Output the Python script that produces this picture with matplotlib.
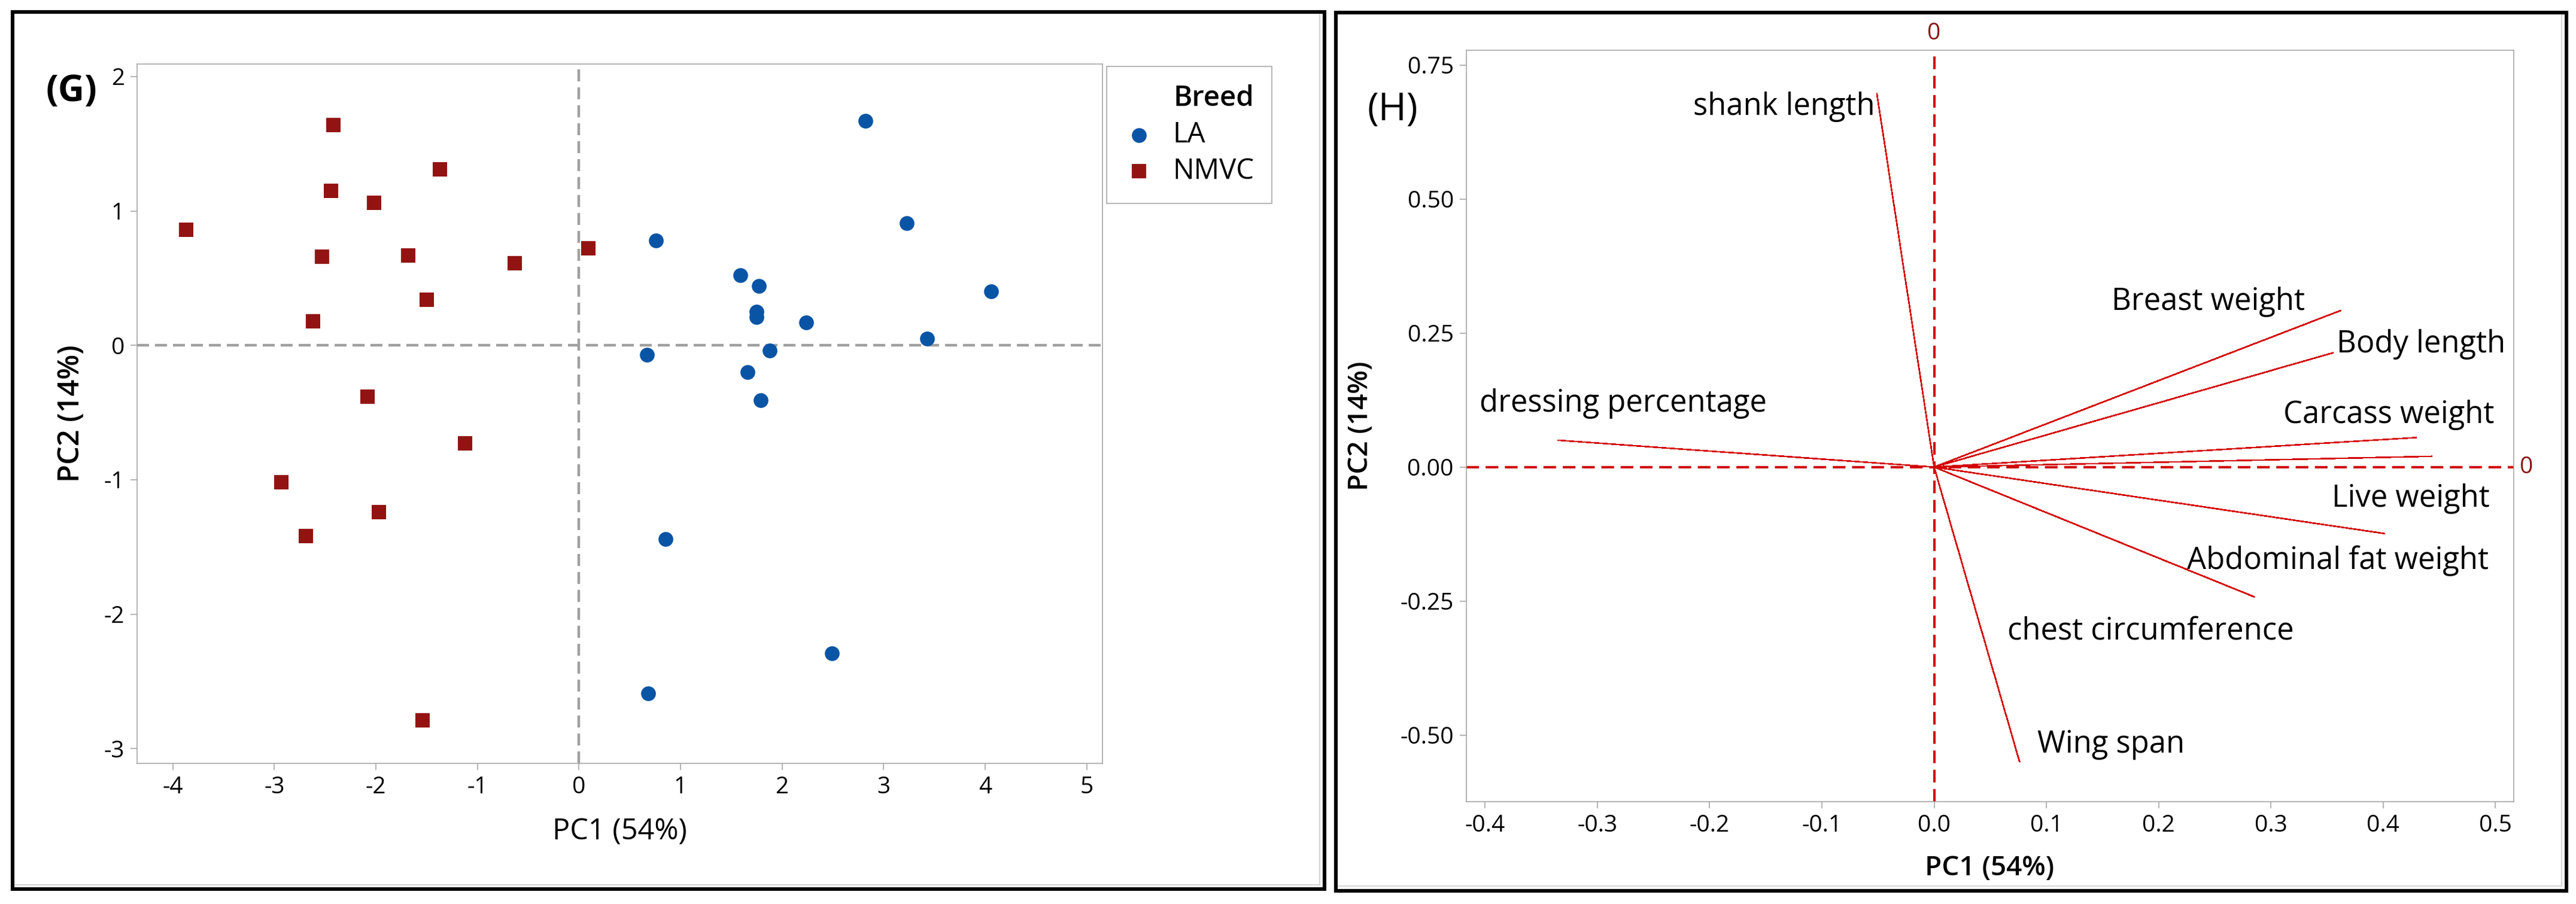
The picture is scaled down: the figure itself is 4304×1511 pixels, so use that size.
import matplotlib
matplotlib.use("Agg")
import matplotlib.pyplot as plt
from matplotlib.patches import Rectangle
from matplotlib.ticker import FormatStrFormatter

plt.rcParams['font.family'] = ['Open Sans', 'DejaVu Sans']
plt.rcParams['axes.unicode_minus'] = False

# (G) PCA scores
la_pc1 = [0.76, 1.59, 1.77, 1.75, 1.75, 2.24, 0.67, 1.88, 1.66, 1.79, 2.82, 3.23, 4.06, 3.43, 0.85, 0.68, 2.49]
la_pc2 = [0.78, 0.52, 0.44, 0.25, 0.21, 0.17, -0.07, -0.04, -0.20, -0.41, 1.67, 0.91, 0.40, 0.05, -1.44, -2.59, -2.29]
nmvc_pc1 = [-2.42, -1.37, -2.44, -2.02, -3.87, -2.53, -1.68, -0.63, 0.09, -1.50, -2.62, -2.08, -1.12, -2.93, -1.97, -2.69, -1.54]
nmvc_pc2 = [1.64, 1.31, 1.15, 1.06, 0.86, 0.66, 0.67, 0.61, 0.72, 0.34, 0.18, -0.38, -0.73, -1.02, -1.24, -1.42, -2.79]
breeds = ['LA', 'NMVC']

# (H) loadings
traits = ['shank length', 'Breast weight', 'Body length', 'Carcass weight', 'dressing percentage',
          'Live weight', 'Abdominal fat weight', 'chest circumference', 'Wing span']
load_pc1 = [-0.051, 0.362, 0.355, 0.429, -0.335, 0.443, 0.401, 0.285, 0.076]
load_pc2 = [0.697, 0.292, 0.213, 0.055, 0.050, 0.020, -0.124, -0.242, -0.549]

g_xticks = [-4, -3, -2, -1, 0, 1, 2, 3, 4, 5]
g_yticks = [-3, -2, -1, 0, 1, 2]
h_xticks = [-0.4, -0.3, -0.2, -0.1, 0.0, 0.1, 0.2, 0.3, 0.4, 0.5]
h_yticks = [-0.5, -0.25, 0.0, 0.25, 0.5, 0.75]

# where the trait names sit (x, baseline y, alignment)
label_pos = [(-0.053, 0.657, 'right'), (0.330, 0.293, 'right'), (0.509, 0.214, 'right'),
             (0.499, 0.082, 'right'), (-0.405, 0.104, 'left'), (0.495, -0.074, 'right'),
             (0.494, -0.190, 'right'), (0.193, -0.321, 'center'), (0.092, -0.533, 'left')]

W, H = 4304, 1511
fig = plt.figure(figsize=(W / 100, H / 100), dpi=100)
fig.patch.set_facecolor('white')

def px_rect(x0, y0, x1, y1, **kw):
    return Rectangle((x0 / W, 1 - y1 / H), (x1 - x0) / W, (y1 - y0) / H,
                     transform=fig.transFigure, fill=False, **kw)

def style_axes(ax):
    for s in ax.spines.values():
        s.set_color('#a0a0a0')
        s.set_linewidth(1.1)
    ax.tick_params(direction='out', length=7.9, width=1.1, color='#a0a0a0',
                   labelsize=28, labelcolor='black', pad=7)

# ---- (G) score plot
ax1 = fig.add_axes([228.7 / W, 1 - 1275.9 / H, (1841.5 - 228.7) / W, (1275.9 - 107.1) / H])
ax1.axhline(0, color='#a0a0a0', lw=3.2, ls=(0, (4.5, 2.25)), zorder=1)
ax1.axvline(0, color='#a0a0a0', lw=3.2, ls=(0, (4.5, 2.25)), zorder=1)
h_la = ax1.scatter(la_pc1, la_pc2, s=17.8 ** 2, marker='o', color='#0a54a5', linewidths=0, zorder=3)
h_nm = ax1.scatter(nmvc_pc1, nmvc_pc2, s=17.6 ** 2, marker='s', color='#931313', linewidths=0, zorder=3)
ax1.set_xlim(-4.353, 5.152)
ax1.set_ylim(-3.109, 2.092)
ax1.set_xticks(g_xticks)
ax1.set_yticks(g_yticks)
style_axes(ax1)
ax1.set_xlabel('PC1 (54%)', fontsize=35)
ax1.set_ylabel('PC2 (14%)', fontsize=35, fontweight='semibold')
ax1.xaxis.label.set_va('center')
ax1.yaxis.label.set_va('center')
ax1.xaxis.set_label_coords(0.5, -0.0975)
ax1.yaxis.set_label_coords(-0.068, 0.5)

leg = ax1.legend([h_la, h_nm], breeds, title='Breed', loc='upper left',
                 bbox_to_anchor=(1849 / W, 1 - 111 / H), bbox_transform=fig.transFigure,
                 borderaxespad=0, fontsize=34,
                 title_fontproperties={'size': 34, 'weight': 'semibold'}, fancybox=False,
                 edgecolor='#a0a0a0', framealpha=1, handlelength=1.0, handletextpad=0.69,
                 labelspacing=0.28, borderpad=0.64, alignment='right', scatterpoints=1)
leg.get_frame().set_linewidth(1.1)

fig.text(119 / W, 1 - 154 / H, '(G)', ha='center', va='center', fontsize=44, fontweight='bold')

# ---- (H) loading plot
ax2 = fig.add_axes([2449.5 / W, 1 - 1340.3 / H, 1750 / W, 1256.4 / H])
ax2.axhline(0, color='#d00000', lw=2.9, ls=(0, (5.25, 2.75)), zorder=1)
ax2.axvline(0, color='#d00000', lw=2.9, ls=(0, (5.25, 2.75)), zorder=1)
for x, y in zip(load_pc1, load_pc2):
    ax2.plot([0, x], [0, y], color='#d40000', lw=1.1, antialiased=False, zorder=2)
for name, (lx, ly, ha) in zip(traits, label_pos):
    ax2.text(lx, ly, name, ha=ha, va='baseline', fontsize=36.5)
ax2.set_xlim(-0.4169, 0.516)
ax2.set_ylim(-0.6246, 0.7777)
ax2.set_xticks(h_xticks)
ax2.set_yticks(h_yticks)
ax2.xaxis.set_major_formatter(FormatStrFormatter('%.1f'))
ax2.yaxis.set_major_formatter(FormatStrFormatter('%.2f'))
style_axes(ax2)
ax2.text(0, 0.809, '0', color='#8c1515', fontsize=28, ha='center', va='center', clip_on=False)
ax2.text(0.5275, 0, '0', color='#8c1515', fontsize=28, ha='center', va='center', clip_on=False)
ax2.set_xlabel('PC1 (54%)', fontsize=33, fontweight='semibold')
ax2.set_ylabel('PC2 (14%)', fontsize=33, fontweight='semibold')
ax2.xaxis.label.set_va('center')
ax2.yaxis.label.set_va('center')
ax2.xaxis.set_label_coords(0.5, -0.0889)
ax2.yaxis.set_label_coords(-0.1003, 0.5)

fig.text(2327 / W, 1 - 184 / H, '(H)', ha='center', va='center', fontsize=46)

# panel frames
fig.patches.append(px_rect(21, 19.5, 2205, 1479, edgecolor='#c8c8c8', lw=1.1))
fig.patches.append(px_rect(2232, 20.5, 4280, 1481, edgecolor='#c8c8c8', lw=1.1))
fig.patches.append(px_rect(21, 19.5, 2213, 1486, edgecolor='black', lw=4.3))
fig.patches.append(px_rect(2232, 20.5, 4288, 1489, edgecolor='black', lw=4.3))

fig.savefig('out.png', dpi=100)
